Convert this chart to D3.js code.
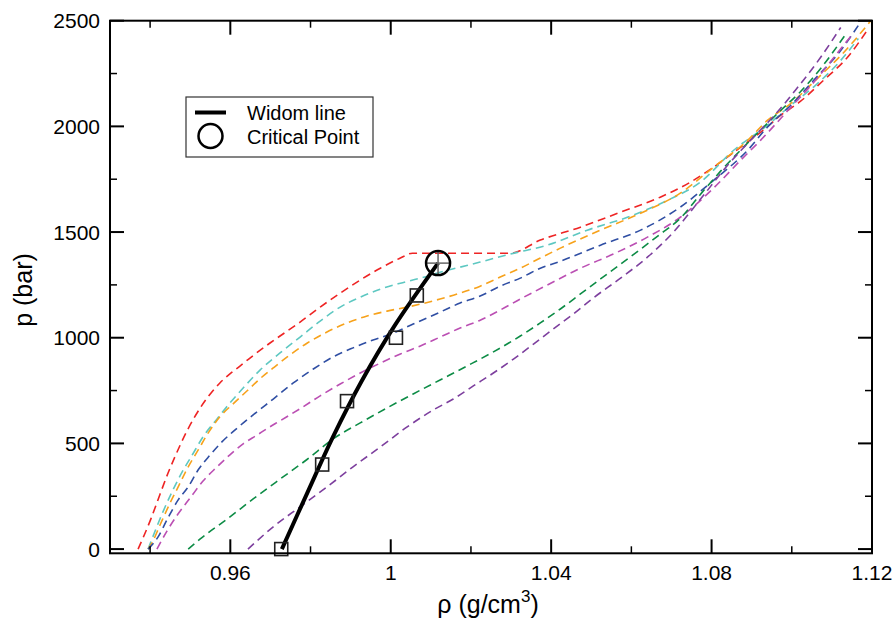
<!DOCTYPE html>
<html>
<head>
<meta charset="utf-8">
<script src="https://cdn.jsdelivr.net/npm/d3@7"></script>
<style>
    body { margin: 0; background: white; }
    text { font-family: "Liberation Sans", Arial, sans-serif; fill: black; }
</style>
</head>
<body>
<svg id="svg" width="893" height="624"></svg>
<script>
/*
*    Isotherms in the p - rho plane with the Widom line and the critical point
*/

//Axis ticks
let xTicks = [0.96, 1, 1.04, 1.08, 1.12];
let xTickLabels = ["0.96", "1", "1.04", "1.08", "1.12"];
let xMinorTicks = [0.94, 0.98, 1.02, 1.06, 1.10];
let yTicks = [0, 500, 1000, 1500, 2000, 2500];
let yTickLabels = ["0", "500", "1000", "1500", "2000", "2500"];
let yMinorTicks = [250, 750, 1250, 1750, 2250];

//Isotherms, [rho, p]
let redCurve = [[0.9370, 0], [0.9402, 143], [0.9425, 261], [0.9445, 361], [0.9462, 437], [0.9492, 559], [0.9525, 668],
    [0.9550, 734], [0.9574, 786], [0.9599, 829], [0.9624, 866], [0.9649, 904], [0.9699, 975], [0.9774, 1074],
    [0.9824, 1145], [0.9874, 1211], [0.9924, 1273], [0.9974, 1329], [1.0024, 1377], [1.0054, 1400], [1.0298, 1400],
    [1.0373, 1462], [1.0473, 1523], [1.0573, 1594], [1.0672, 1665], [1.0747, 1736], [1.0805, 1807], [1.0872, 1901],
    [1.0929, 1982], [1.0972, 2052], [1.1022, 2119], [1.1079, 2218], [1.1139, 2327], [1.1191, 2463]];
let cyanCurve = [[0.9395, 0], [0.9432, 176], [0.9457, 280], [0.9480, 365], [0.9505, 445], [0.9532, 531], [0.9567, 616],
    [0.9599, 691], [0.9632, 762], [0.9674, 847], [0.9724, 928], [0.9774, 1003], [0.9824, 1079], [0.9874, 1145],
    [0.9924, 1192], [0.9974, 1230], [1.0024, 1258], [1.0074, 1282], [1.0123, 1310], [1.0173, 1334], [1.0223, 1358],
    [1.0298, 1396], [1.0390, 1438], [1.0490, 1509], [1.0590, 1570], [1.0690, 1650], [1.0772, 1736], [1.0855, 1887],
    [1.0939, 2005], [1.0997, 2099], [1.1059, 2194], [1.1122, 2312], [1.1166, 2416]];
let orangeCurve = [[0.9395, 0], [0.9405, 30], [0.9425, 115], [0.9450, 219], [0.9470, 294], [0.9495, 389], [0.9520, 469],
    [0.9545, 550], [0.9574, 626], [0.9607, 687], [0.9642, 749], [0.9674, 806], [0.9707, 857], [0.9742, 909],
    [0.9792, 975], [0.9841, 1027], [0.9891, 1070], [0.9941, 1103], [0.9991, 1126], [1.0041, 1145], [1.0074, 1159],
    [1.0123, 1183], [1.0173, 1211], [1.0223, 1244], [1.0273, 1287], [1.0323, 1329], [1.0373, 1377], [1.0423, 1424],
    [1.0523, 1509], [1.0623, 1589], [1.0722, 1684], [1.0805, 1807], [1.0890, 1934], [1.0939, 2028], [1.0997, 2108],
    [1.1059, 2218], [1.1134, 2359], [1.1196, 2497]];
let blueCurve = [[0.9395, 0], [0.9420, 58], [0.9442, 138], [0.9470, 233], [0.9495, 294], [0.9520, 375], [0.9550, 446],
    [0.9579, 507], [0.9612, 564], [0.9657, 635], [0.9707, 710], [0.9757, 786], [0.9807, 852], [0.9856, 909],
    [0.9906, 952], [0.9956, 989], [1.0006, 1022], [1.0056, 1065], [1.0123, 1121], [1.0173, 1164], [1.0223, 1197],
    [1.0273, 1244], [1.0323, 1282], [1.0373, 1329], [1.0423, 1362], [1.0523, 1438], [1.0623, 1509], [1.0722, 1618],
    [1.0805, 1745], [1.0890, 1887], [1.0939, 1996], [1.0997, 2099], [1.1059, 2227], [1.1122, 2359], [1.1171, 2492]];
let magentaCurve = [[0.9417, 0], [0.9442, 85], [0.9470, 167], [0.9500, 242], [0.9532, 322], [0.9567, 389], [0.9599, 446],
    [0.9632, 498], [0.9667, 540], [0.9694, 573], [0.9724, 607], [0.9774, 664], [0.9824, 725], [0.9874, 781],
    [0.9924, 833], [0.9974, 880], [1.0024, 923], [1.0074, 961], [1.0123, 1003], [1.0173, 1046], [1.0223, 1083],
    [1.0273, 1131], [1.0323, 1183], [1.0390, 1249], [1.0473, 1329], [1.0555, 1396], [1.0640, 1476], [1.0722, 1570],
    [1.0805, 1708], [1.0872, 1839], [1.0922, 1934], [1.0997, 2089], [1.1059, 2218], [1.1109, 2336], [1.1147, 2426]];
let greenCurve = [[0.9495, 0], [0.9525, 48], [0.9592, 142], [0.9657, 237], [0.9724, 331], [0.9792, 425], [0.9856, 521],
    [0.9924, 597], [0.9991, 668], [1.0056, 734], [1.0123, 800], [1.0191, 867], [1.0256, 933], [1.0323, 1008],
    [1.0373, 1070], [1.0423, 1136], [1.0473, 1207], [1.0523, 1278], [1.0573, 1348], [1.0623, 1419], [1.0672, 1490],
    [1.0722, 1565], [1.0772, 1678], [1.0822, 1787], [1.0872, 1887], [1.0914, 1967], [1.0972, 2075], [1.1022, 2165],
    [1.1072, 2274], [1.1134, 2435]];
let purpleCurve = [[0.9644, 0], [0.9707, 105], [0.9774, 200], [0.9841, 294], [0.9906, 389], [0.9974, 483], [1.0041, 578],
    [1.0106, 658], [1.0156, 710], [1.0206, 772], [1.0256, 833], [1.0306, 899], [1.0356, 970], [1.0405, 1041],
    [1.0455, 1112], [1.0505, 1188], [1.0573, 1282], [1.0640, 1381], [1.0705, 1500], [1.0772, 1655], [1.0840, 1816],
    [1.0904, 1948], [1.0959, 2057], [1.1009, 2171], [1.1072, 2327], [1.1122, 2468]];

let isotherms = [redCurve, cyanCurve, orangeCurve, blueCurve, magentaCurve, greenCurve, purpleCurve];
let isothermColors = ["#ee2424", "#5ec8c2", "#f7a21b", "#2f4ea3", "#bb4fb3", "#0d8c46", "#7d3f9e"];

//Widom line (fit) and the points it was drawn through
let widomRho = [0.97285, 0.9792, 0.9856, 0.9929, 1.0009, 1.0118];
let widomP = [0, 266, 531, 800, 1055, 1353];
let squareRho = [0.9727, 0.9829, 0.9891, 1.0013, 1.0065];
let squareP = [0, 400, 700, 1000, 1200];
let criticalRho = 1.0118;
let criticalP = 1353;

let legendLabels = ["Widom line", "Critical Point"];

let svg = d3.select("#svg");

let x = d3.scaleLinear().domain([0.93, 1.12]).range([110, 872]);
let y = d3.scaleLinear().domain([-20, 2500]).range([553.3, 20.7]);

let line = d3.line()
    .x(function (d) { return x(d[0]); })
    .y(function (d) { return y(d[1]); })
    .curve(d3.curveMonotoneX);

//Dashed isotherms
isotherms.forEach(function (curve, i) {
    svg.append("path")
        .datum(curve)
        .attr("d", line)
        .attr("fill", "none")
        .attr("stroke", isothermColors[i])
        .attr("stroke-width", 1.6)
        .attr("stroke-dasharray", "8,5");
});

//Widom line
let widom = widomRho.map(function (r, i) { return [r, widomP[i]]; });
svg.append("path")
    .datum(widom)
    .attr("d", line.curve(d3.curveCatmullRom))
    .attr("fill", "none")
    .attr("stroke", "black")
    .attr("stroke-width", 4);

//Squares on the Widom line
svg.selectAll(".square")
    .data(squareRho)
    .enter()
    .append("rect")
    .attr("x", function (d) { return x(d) - 6.5; })
    .attr("y", function (d, i) { return y(squareP[i]) - 6.5; })
    .attr("width", 13)
    .attr("height", 13)
    .attr("fill", "none")
    .attr("stroke", "#222")
    .attr("stroke-width", 1.6);

//Critical point: circle with a grey cross
let cx = x(criticalRho), cy = y(criticalP);
svg.append("line").attr("x1", cx - 11).attr("x2", cx + 11).attr("y1", cy).attr("y2", cy)
    .attr("stroke", "#666").attr("stroke-width", 1.5);
svg.append("line").attr("x1", cx).attr("x2", cx).attr("y1", cy - 11).attr("y2", cy + 11)
    .attr("stroke", "#666").attr("stroke-width", 1.5);
svg.append("circle")
    .attr("cx", cx).attr("cy", cy).attr("r", 12)
    .attr("fill", "none")
    .attr("stroke", "black")
    .attr("stroke-width", 2.5);

//Ticks on all four sides, pointing inwards
let ticks = svg.append("g").attr("stroke", "black");
function addXTicks(values, len, w) {
    values.forEach(function (v) {
        ticks.append("line").attr("x1", x(v)).attr("x2", x(v)).attr("y1", 553.3).attr("y2", 553.3 - len).attr("stroke-width", w);
        ticks.append("line").attr("x1", x(v)).attr("x2", x(v)).attr("y1", 20.7).attr("y2", 20.7 + len).attr("stroke-width", w);
    });
}
function addYTicks(values, len, w) {
    values.forEach(function (v) {
        ticks.append("line").attr("y1", y(v)).attr("y2", y(v)).attr("x1", 110).attr("x2", 110 + len).attr("stroke-width", w);
        ticks.append("line").attr("y1", y(v)).attr("y2", y(v)).attr("x1", 872).attr("x2", 872 - len).attr("stroke-width", w);
    });
}
addXTicks(xTicks, 14, 2);
addXTicks(xMinorTicks, 7, 1.5);
addYTicks(yTicks, 14, 2);
addYTicks(yMinorTicks, 7, 1.5);

//Frame
svg.append("rect")
    .attr("x", 110).attr("y", 20.7)
    .attr("width", 762).attr("height", 532.6)
    .attr("fill", "none")
    .attr("stroke", "black")
    .attr("stroke-width", 2);

//Tick labels
svg.selectAll(".xlabel")
    .data(xTicks)
    .enter()
    .append("text")
    .attr("x", function (d) { return x(d); })
    .attr("y", 580)
    .attr("text-anchor", "middle")
    .attr("font-size", 21)
    .text(function (d, i) { return xTickLabels[i]; });

svg.selectAll(".ylabel")
    .data(yTicks)
    .enter()
    .append("text")
    .attr("x", 100)
    .attr("y", function (d) { return y(d) + 7.5; })
    .attr("text-anchor", "end")
    .attr("font-size", 21)
    .text(function (d, i) { return yTickLabels[i]; });

//Axis titles
let xTitle = svg.append("text")
    .attr("x", 488)
    .attr("y", 613)
    .attr("text-anchor", "middle")
    .attr("font-size", 25);
xTitle.append("tspan").text("ρ (g/cm");
xTitle.append("tspan").attr("font-size", 17).attr("dy", -11).text("3");
xTitle.append("tspan").attr("dy", 11).text(")");

svg.append("text")
    .attr("transform", "translate(32,290) rotate(-90)")
    .attr("text-anchor", "middle")
    .attr("font-size", 25)
    .text("p (bar)");

//Legend
let legend = svg.append("g");
legend.append("rect")
    .attr("x", 186).attr("y", 97)
    .attr("width", 187).attr("height", 60)
    .attr("fill", "white")
    .attr("stroke", "#333")
    .attr("stroke-width", 1.2);
legend.append("line")
    .attr("x1", 195).attr("x2", 226).attr("y1", 112.5).attr("y2", 112.5)
    .attr("stroke", "black").attr("stroke-width", 4);
legend.append("circle")
    .attr("cx", 210.5).attr("cy", 136).attr("r", 12)
    .attr("fill", "none").attr("stroke", "black").attr("stroke-width", 2.5);
legend.selectAll(".legendText")
    .data(legendLabels)
    .enter()
    .append("text")
    .attr("x", 247)
    .attr("y", function (d, i) { return 119.5 + i * 24; })
    .attr("font-size", 20)
    .text(function (d) { return d; });
</script>
</body>
</html>
